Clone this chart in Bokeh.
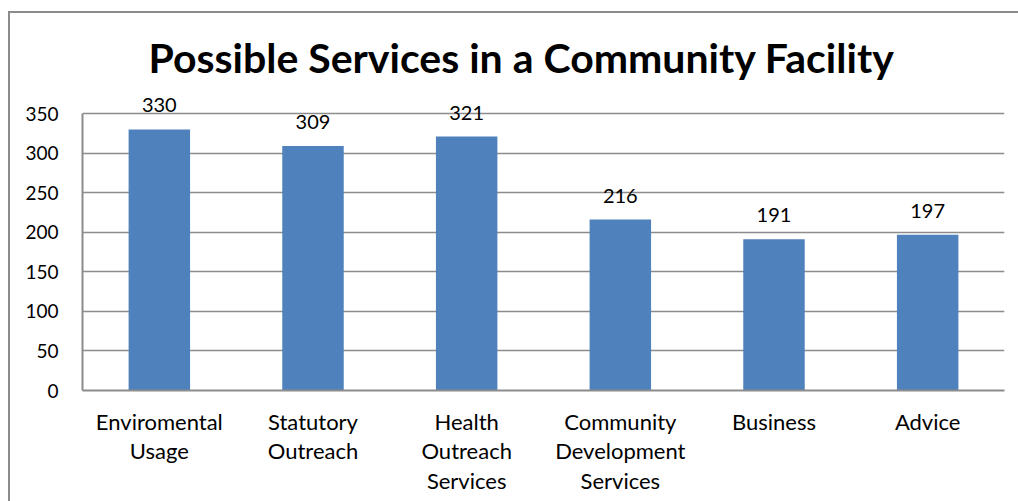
from bokeh.plotting import figure
from bokeh.models import ColumnDataSource, LabelSet, FixedTicker, InlineStyleSheet
from bokeh.core.properties import value
from bokeh.embed import file_html
from bokeh.resources import INLINE

categories = ["Enviromental\nUsage", "Statutory\nOutreach", "Health\nOutreach\nServices",
              "Community\nDevelopment\nServices", "Business", "Advice"]
counts = [330, 309, 321, 216, 191, 197]
y_ticks = [0, 50, 100, 150, 200, 250, 300, 350]
title_text = "Possible Services in a Community  Facility"

FONT = "Lato"
BAR = "#4F81BD"
GRID = "#8c8c8c"
Y_MAX = 350
Y_HEADROOM = 38  # extra room above the top tick for value labels

src = ColumnDataSource(dict(cat=categories, val=counts, lab=[str(v) for v in counts]))

p = figure(x_range=categories, y_range=(0, Y_MAX + Y_HEADROOM), width=1018, height=501,
           output_backend="svg", toolbar_location=None,
           min_border_left=82, min_border_right=14, min_border_top=83, min_border_bottom=111)

p.vbar(x="cat", top="val", width=0.4, source=src, fill_color=BAR, line_color=None)

labels = LabelSet(x="cat", y="val", text="lab", source=src, text_align="center",
                  text_baseline="bottom", y_offset=17, text_font=value(FONT),
                  text_font_size="20px", text_color="#000000")
p.add_layout(labels)

p.title.text = title_text
p.title.align = "left"
p.title.offset = 66
p.title.text_font = FONT
p.title.text_font_size = "41px"
p.title.text_font_style = "bold"
p.title.text_color = "#000000"
p.title.standoff = 4

p.yaxis.ticker = FixedTicker(ticks=y_ticks)
p.yaxis.bounds = (0, Y_MAX)
p.yaxis.major_tick_line_color = None
p.yaxis.major_tick_out = 0
p.yaxis.major_tick_in = 0
p.yaxis.minor_tick_line_color = None
p.yaxis.axis_line_color = GRID
p.yaxis.axis_line_width = 2
p.yaxis.major_label_text_font = FONT
p.yaxis.major_label_text_font_size = "19px"
p.yaxis.major_label_text_color = "#000000"
p.yaxis.major_label_standoff = 24

p.xaxis.major_tick_line_color = None
p.xaxis.major_tick_out = 0
p.xaxis.major_tick_in = 0
p.xaxis.axis_line_color = GRID
p.xaxis.axis_line_width = 2
p.xaxis.major_label_text_font = FONT
p.xaxis.major_label_text_font_size = "22px"
p.xaxis.major_label_text_line_height = 1.1
p.xaxis.major_label_text_color = "#000000"
p.xaxis.major_label_standoff = 17

p.xgrid.grid_line_color = None
p.ygrid.grid_line_color = GRID
p.ygrid.grid_line_width = 1.5
p.outline_line_color = None
p.x_range.range_padding = 0

p.stylesheets = [InlineStyleSheet(css="""
:host::after { content: ''; position: absolute; left: 8px; top: 11px; right: 0; bottom: 0;
  border-left: 2px solid #8c8c8c; border-top: 2px solid #8c8c8c; pointer-events: none; }
""")]

open("out.html", "w").write(file_html(p, INLINE))
